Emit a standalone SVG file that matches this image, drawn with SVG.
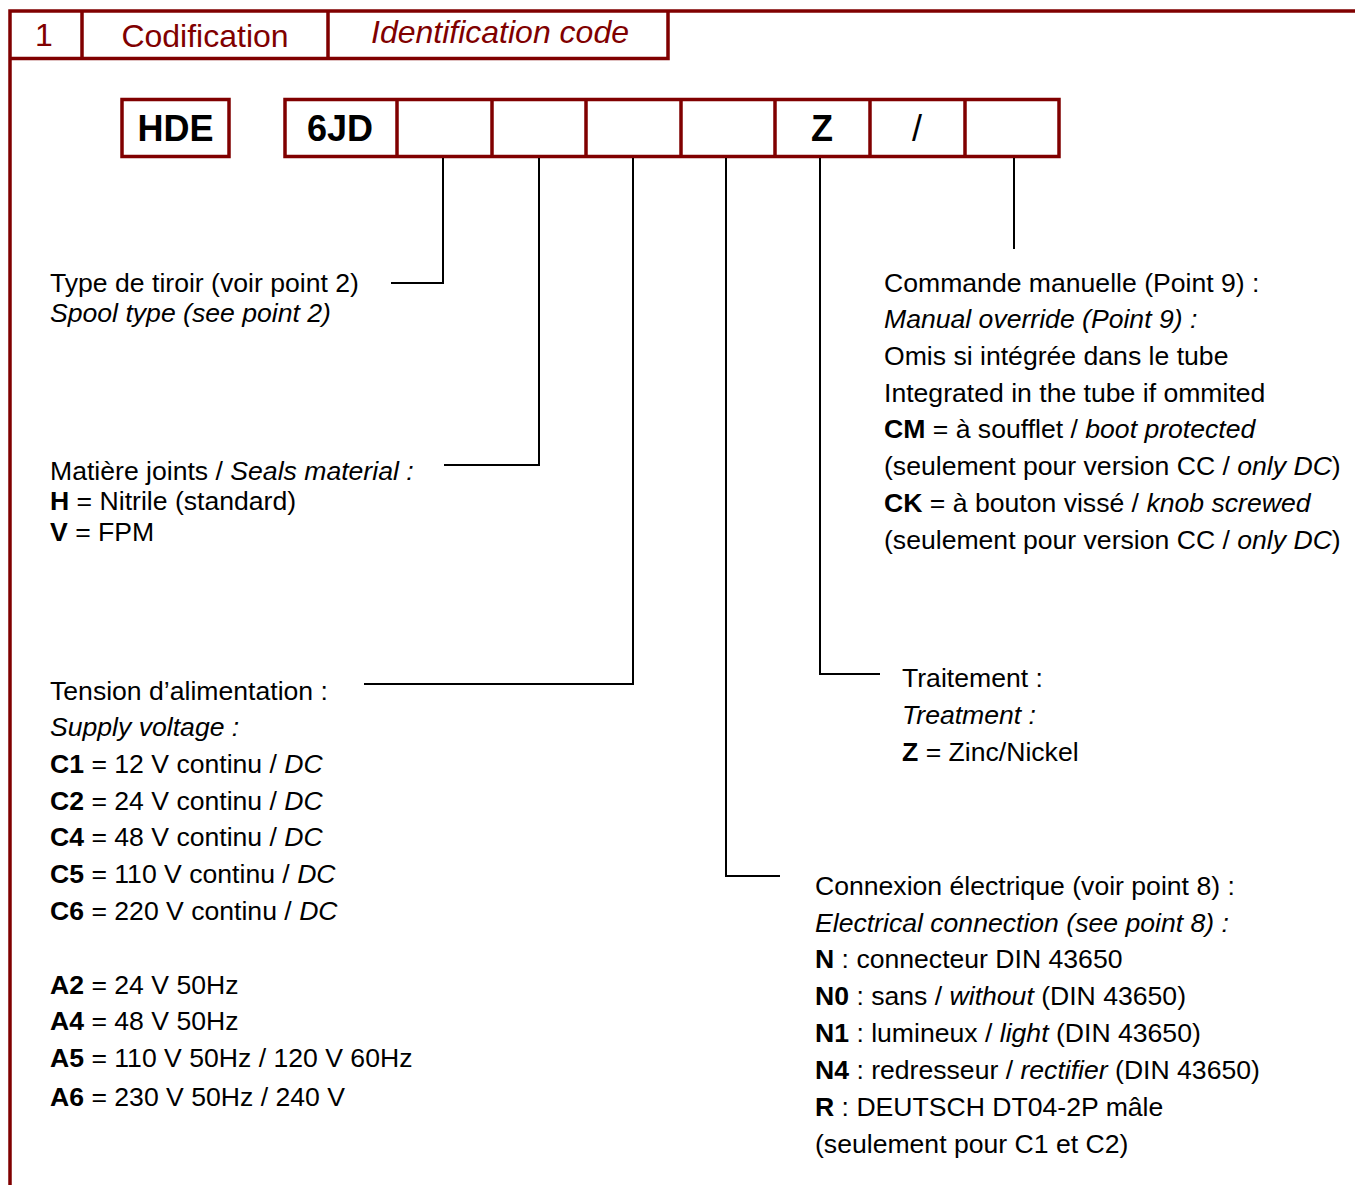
<svg xmlns="http://www.w3.org/2000/svg" width="1355" height="1185" viewBox="0 0 1355 1185">
<style>
.red{fill:none;stroke:#800000;stroke-width:3.5}
.hdr{font-family:"Liberation Sans",Arial,sans-serif;font-size:32px;fill:#800000}
.code{font-family:"Liberation Sans",Arial,sans-serif;font-size:36px;font-weight:bold;fill:#000}
.t{font-family:"Liberation Sans",Arial,sans-serif;font-size:26.6px;fill:#000}
.b{font-weight:bold}
.i{font-style:italic}
.conn{fill:none;stroke:#000;stroke-width:2}
</style>
<rect width="1355" height="1185" fill="#fff"/>
<g id="frame">
<path class="red" d="M10,1185 V11 H1355"/>
<path class="red" d="M10,58.5 H668 V11 M82,11 V58.5 M328,11 V58.5"/>
<text class="hdr" x="44" y="46" text-anchor="middle">1</text>
<text class="hdr" x="205" y="47" text-anchor="middle">Codification</text>
<text class="hdr i" x="500" y="43" text-anchor="middle">Identification code</text>
</g>
<g id="code-hde">
<rect class="red" x="122" y="99.5" width="107" height="57"/>
<text class="code" x="175.5" y="141" text-anchor="middle">HDE</text>
</g>
<g id="code-main">
<rect class="red" x="285" y="99.5" width="774" height="57"/>
<path class="red" d="M397,99.5 V156.5 M492,99.5 V156.5 M586,99.5 V156.5 M681,99.5 V156.5 M775,99.5 V156.5 M870,99.5 V156.5 M965,99.5 V156.5"/>
<text class="code" x="340" y="141" text-anchor="middle">6JD</text>
<text class="code" x="822" y="141" text-anchor="middle">Z</text>
<text class="code" x="917" y="141" text-anchor="middle" style="font-weight:normal">/</text>
</g>
<g id="connectors">
<path class="conn" d="M443,158 V283 H391"/>
<path class="conn" d="M539,158 V465 H444"/>
<path class="conn" d="M633,158 V684 H364"/>
<path class="conn" d="M726,158 V876 H780"/>
<path class="conn" d="M820,158 V674 H880"/>
<path class="conn" d="M1014,158 V249"/>
</g>
<g id="spool">
<text class="t" x="50" y="292">Type de tiroir (voir point 2)</text>
<text class="t i" x="50" y="322">Spool type (see point 2)</text>
</g>
<g id="seals">
<text class="t" x="50" y="480">Matière joints / <tspan class="i">Seals material :</tspan></text>
<text class="t" x="50" y="510"><tspan class="b">H</tspan> = Nitrile (standard)</text>
<text class="t" x="50" y="541"><tspan class="b">V</tspan> = FPM</text>
</g>
<g id="voltage">
<text class="t" x="50" y="700">Tension d’alimentation :</text>
<text class="t i" x="50" y="736">Supply voltage :</text>
<text class="t" x="50" y="773"><tspan class="b">C1</tspan> = 12 V continu / <tspan class="i">DC</tspan></text>
<text class="t" x="50" y="810"><tspan class="b">C2</tspan> = 24 V continu / <tspan class="i">DC</tspan></text>
<text class="t" x="50" y="846"><tspan class="b">C4</tspan> = 48 V continu / <tspan class="i">DC</tspan></text>
<text class="t" x="50" y="883"><tspan class="b">C5</tspan> = 110 V continu / <tspan class="i">DC</tspan></text>
<text class="t" x="50" y="920"><tspan class="b">C6</tspan> = 220 V continu / <tspan class="i">DC</tspan></text>
<text class="t" x="50" y="994"><tspan class="b">A2</tspan> = 24 V 50Hz</text>
<text class="t" x="50" y="1030"><tspan class="b">A4</tspan> = 48 V 50Hz</text>
<text class="t" x="50" y="1067"><tspan class="b">A5</tspan> = 110 V 50Hz / 120 V 60Hz</text>
<text class="t" x="50" y="1106"><tspan class="b">A6</tspan> = 230 V 50Hz / 240 V</text>
</g>
<g id="override">
<text class="t" x="884" y="292">Commande manuelle (Point 9) :</text>
<text class="t i" x="884" y="328">Manual override (Point 9) :</text>
<text class="t" x="884" y="365">Omis si intégrée dans le tube</text>
<text class="t" x="884" y="402">Integrated in the tube if ommited</text>
<text class="t" x="884" y="438"><tspan class="b">CM</tspan> = à soufflet / <tspan class="i">boot protected</tspan></text>
<text class="t" x="884" y="475">(seulement pour version CC / <tspan class="i">only DC</tspan>)</text>
<text class="t" x="884" y="512"><tspan class="b">CK</tspan> = à bouton vissé / <tspan class="i">knob screwed</tspan></text>
<text class="t" x="884" y="549">(seulement pour version CC / <tspan class="i">only DC</tspan>)</text>
</g>
<g id="treatment">
<text class="t" x="902" y="687">Traitement :</text>
<text class="t i" x="902" y="724">Treatment :</text>
<text class="t" x="902" y="761"><tspan class="b">Z</tspan> = Zinc/Nickel</text>
</g>
<g id="connection">
<text class="t" x="815" y="895">Connexion électrique (voir point 8) :</text>
<text class="t i" x="815" y="932">Electrical connection (see point 8) :</text>
<text class="t" x="815" y="968"><tspan class="b">N</tspan> : connecteur DIN 43650</text>
<text class="t" x="815" y="1005"><tspan class="b">N0</tspan> : sans / <tspan class="i">without</tspan> (DIN 43650)</text>
<text class="t" x="815" y="1042"><tspan class="b">N1</tspan> : lumineux / <tspan class="i">light</tspan> (DIN 43650)</text>
<text class="t" x="815" y="1079"><tspan class="b">N4</tspan> : redresseur / <tspan class="i">rectifier</tspan> (DIN 43650)</text>
<text class="t" x="815" y="1116"><tspan class="b">R</tspan> : DEUTSCH DT04-2P mâle</text>
<text class="t" x="815" y="1153">(seulement pour C1 et C2)</text>
</g>
</svg>
